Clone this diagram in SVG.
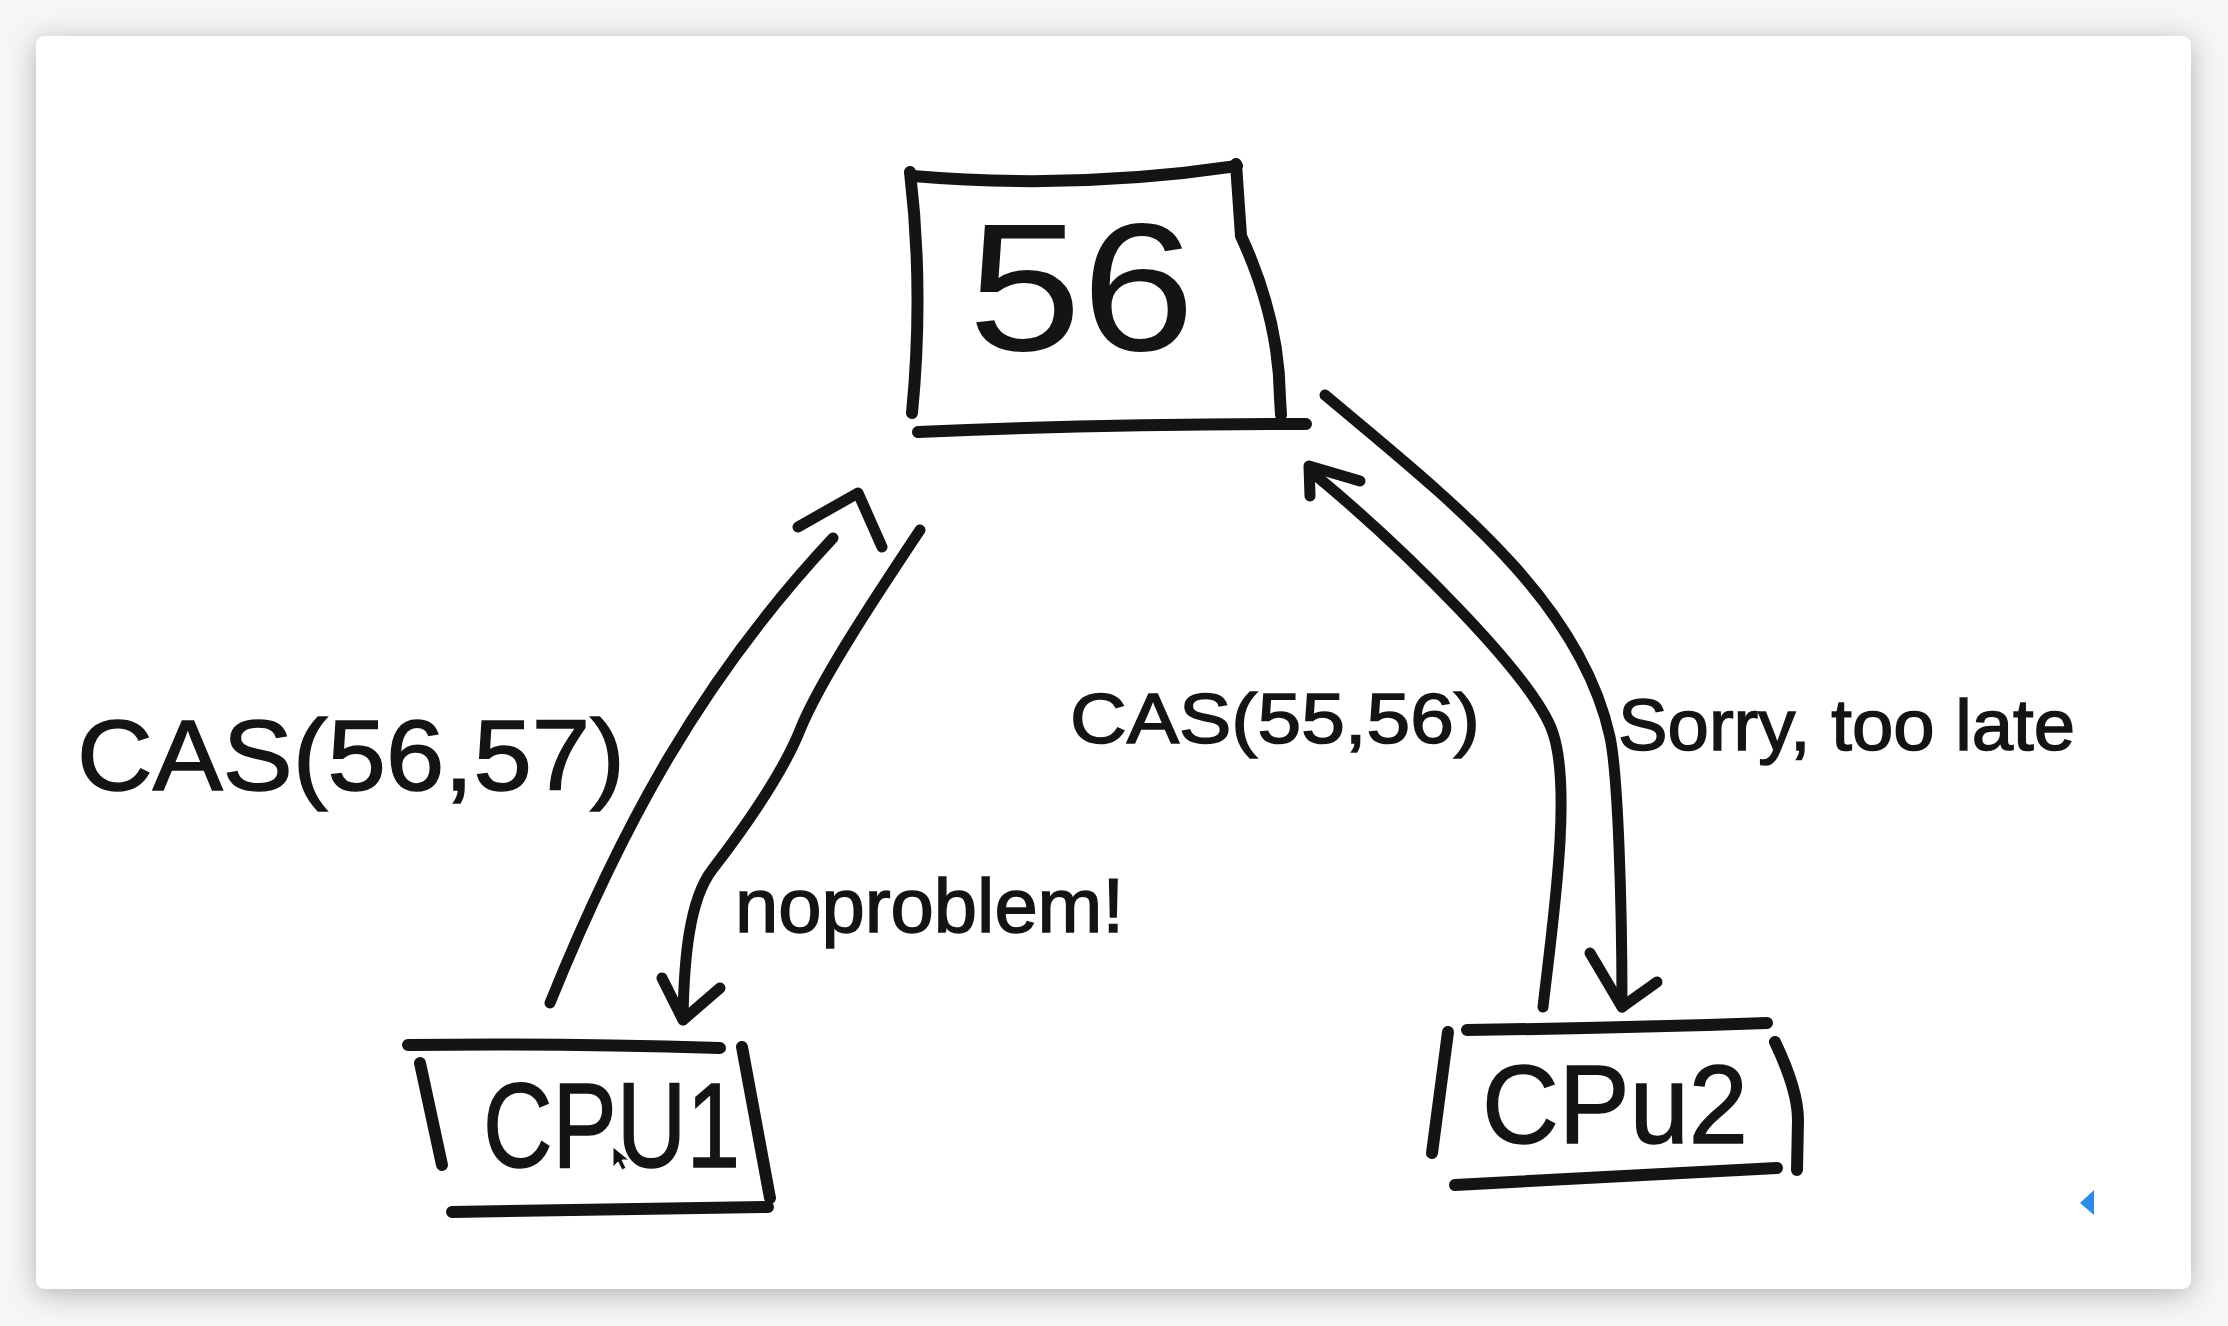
<svg xmlns="http://www.w3.org/2000/svg" width="2228" height="1326" viewBox="0 0 2228 1326">
<defs>
<filter id="shadow" x="-5%" y="-5%" width="110%" height="112%">
<feDropShadow dx="0" dy="5" stdDeviation="14" flood-color="#000" flood-opacity="0.28"/>
</filter>
<style>
.ln{fill:none;stroke:#141414;stroke-width:11;stroke-linecap:round;stroke-linejoin:round}
.bx{fill:none;stroke:#141414;stroke-width:12;stroke-linecap:round;stroke-linejoin:round}
.tx{font-family:"Liberation Sans","DejaVu Sans",sans-serif;fill:#141414;stroke:#141414;stroke-width:1.5}
</style>
</defs>
<rect x="0" y="0" width="2228" height="1326" fill="#f6f6f6"/>
<rect x="36" y="36" width="2155" height="1253" rx="9" fill="#ffffff" filter="url(#shadow)"/>

<g id="node-56">
<path class="bx" d="M913,176 Q1075,190 1237,166"/>
<path class="bx" d="M910,172 Q924,290 912,413"/>
<path class="bx" d="M1236,164 L1241,236 Q1279,318 1280,398 L1281,415"/>
<path class="bx" d="M918,432 Q1100,424 1306,424"/>
<text class="tx" x="968" y="350" font-size="182" textLength="227" lengthAdjust="spacingAndGlyphs" style="stroke-width:0">56</text>
</g>

<g id="node-cpu1">
<path class="bx" d="M408,1045 Q560,1043 720,1048"/>
<path class="bx" d="M420,1063 L442,1165"/>
<path class="bx" d="M742,1047 L770,1198"/>
<path class="bx" d="M452,1212 L768,1207"/>
<text class="tx" x="483" y="1167" font-size="120" textLength="257" lengthAdjust="spacingAndGlyphs">CPU1</text>
</g>

<g id="node-cpu2">
<path class="bx" d="M1467,1030 Q1620,1028 1767,1023"/>
<path class="bx" d="M1448,1032 L1432,1153"/>
<path class="bx" d="M1775,1042 Q1798,1090 1798,1120 L1797,1170"/>
<path class="bx" d="M1455,1185 L1777,1168"/>
<text class="tx" x="1482" y="1143" font-size="112" textLength="266" lengthAdjust="spacingAndGlyphs">CPu2</text>
</g>

<g id="connectors">
<g id="edge-cas-56-57">
<path class="ln" d="M550,1003 C620,830 700,680 833,538"/>
<path class="ln" d="M798,527 L858,493 L882,547"/>
</g>
<g id="edge-noproblem">
<path class="ln" d="M920,530 C880,590 820,680 800,730 C780,780 735,840 712,870 C689,900 684,960 683,1018"/>
<path class="ln" d="M662,978 L683,1020 L720,988"/>
</g>
<g id="edge-cas-55-56">
<path class="ln" d="M1543,1007 C1553,920 1572,790 1553,733 C1534,676 1400,545 1314,474"/>
<path class="ln" d="M1310,496 L1309,466 L1360,481"/>
</g>
<g id="edge-sorry">
<path class="ln" d="M1325,395 C1450,500 1580,600 1610,737 C1618,775 1622,900 1622,1007"/>
<path class="ln" d="M1590,953 L1622,1007 L1657,982"/>
</g>
</g>

<text class="tx" x="77" y="790" font-size="100" textLength="548" lengthAdjust="spacingAndGlyphs">CAS(56,57)</text>
<text class="tx" x="735" y="932" font-size="76" textLength="389" lengthAdjust="spacingAndGlyphs">noproblem!</text>
<text class="tx" x="1070" y="743" font-size="70" textLength="410" lengthAdjust="spacingAndGlyphs">CAS(55,56)</text>
<text class="tx" x="1618" y="750" font-size="72" textLength="457" lengthAdjust="spacingAndGlyphs">Sorry, too late</text>

<polygon points="613,1147 613,1167 618,1162 622,1170 626,1168 622,1160 629,1160" fill="#111" stroke="#fff" stroke-width="1"/>
<polygon points="2094,1190 2094,1215 2080,1203" fill="#2b8be6"/>
</svg>
